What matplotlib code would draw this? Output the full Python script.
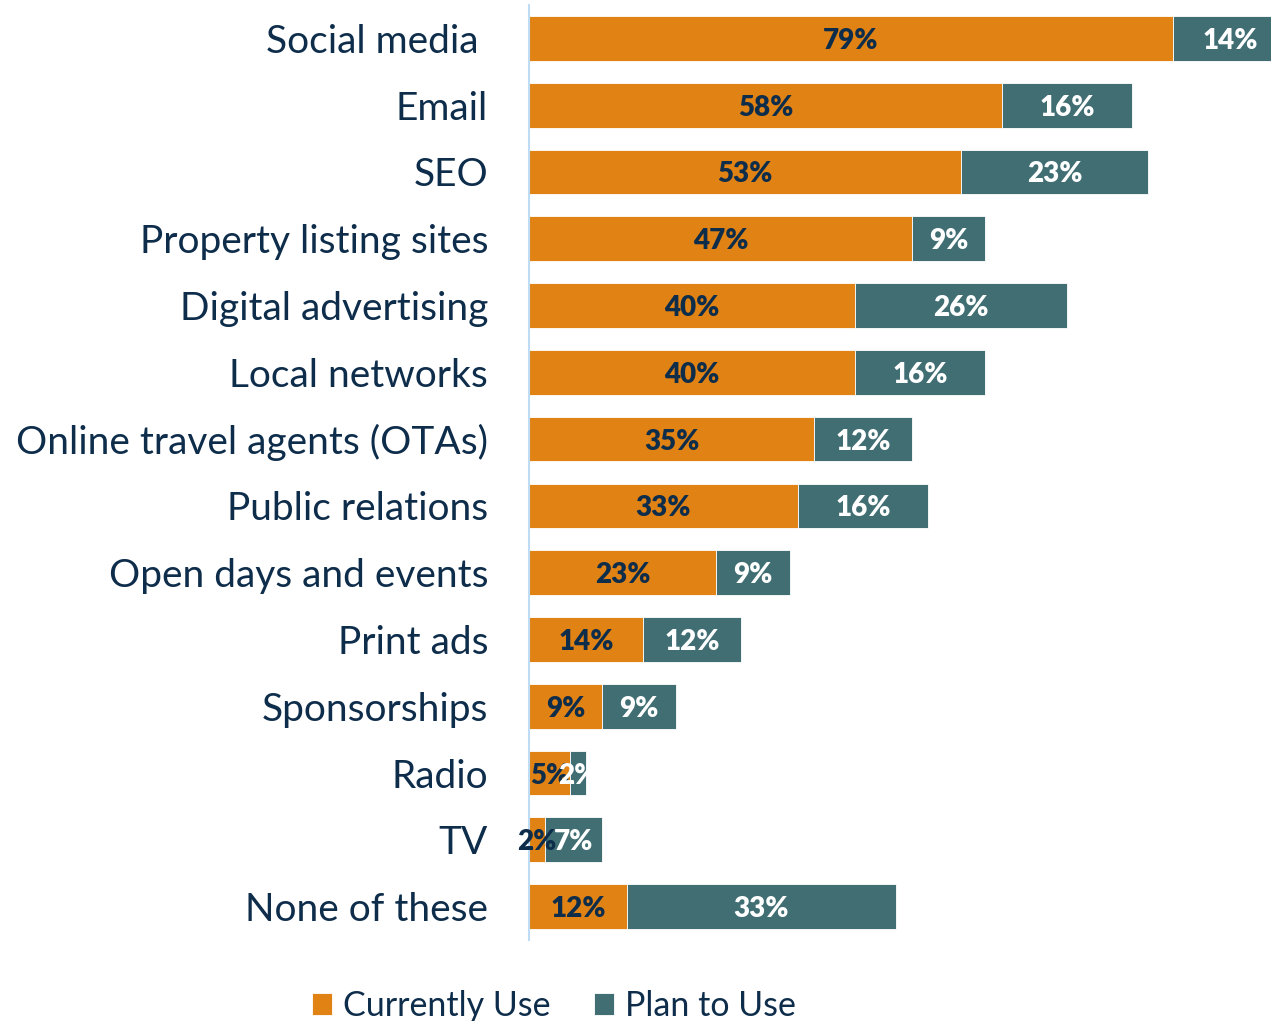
import matplotlib.pyplot as plt
import numpy as np

# Marketing channels, current use vs planned use (percent of respondents)
channels = ['Social media ', 'Email', 'SEO', 'Property listing sites',
            'Digital advertising', 'Local networks', 'Online travel agents (OTAs)',
            'Public relations', 'Open days and events', 'Print ads',
            'Sponsorships', 'Radio', 'TV', 'None of these']
currently_use = [79, 58, 53, 47, 40, 40, 35, 33, 23, 14, 9, 5, 2, 12]
plan_to_use = [14, 16, 23, 9, 26, 16, 12, 16, 9, 12, 9, 2, 7, 33]

ORANGE = '#E08214'
TEAL = '#406E73'
NAVY = '#0E2D4B'

plt.rcParams['font.family'] = ['Lato', 'DejaVu Sans']

fig = plt.figure(figsize=(12.71, 10.21), dpi=100)
ax = fig.add_axes([529 / 1271, 81 / 1021, 742 / 1271, 935 / 1021])

y = np.arange(len(channels))
cur = np.array(currently_use)
plan = np.array(plan_to_use)

ax.barh(y, cur, height=0.67, color=ORANGE, edgecolor='white', linewidth=0.6,
        label='Currently Use')
ax.barh(y, plan, left=cur, height=0.67, color=TEAL, edgecolor='white',
        linewidth=0.6, label='Plan to Use')

for i in range(len(channels)):
    ax.text(cur[i] / 2, y[i], f'{cur[i]}%', ha='center', va='center_baseline',
            fontsize=20, fontweight='heavy', color=NAVY)
    ax.text(cur[i] + plan[i] / 2, y[i], f'{plan[i]}%', ha='center',
            va='center_baseline', fontsize=20, fontweight='heavy', color='white')

ax.set_xlim(0, 742 / 8.15)
ax.set_ylim(len(channels) - 0.5, -0.5)
ax.set_yticks(y)
ax.set_yticklabels(channels, fontsize=28, color=NAVY)
ax.tick_params(axis='y', length=0, pad=29.5)
ax.set_xticks([])
for side in ['top', 'right', 'bottom']:
    ax.spines[side].set_visible(False)
ax.spines['left'].set_color('#BEDDF5')
ax.spines['left'].set_linewidth(1.5)

fig.legend(loc='center', bbox_to_anchor=(554 / 1271, 1 - 1006 / 1021), ncol=2,
           frameon=False, fontsize=24.5, labelcolor=NAVY, handlelength=0.59,
           handleheight=0.59, handletextpad=0.32, columnspacing=1.26)

fig.savefig('out.png', dpi=100)
